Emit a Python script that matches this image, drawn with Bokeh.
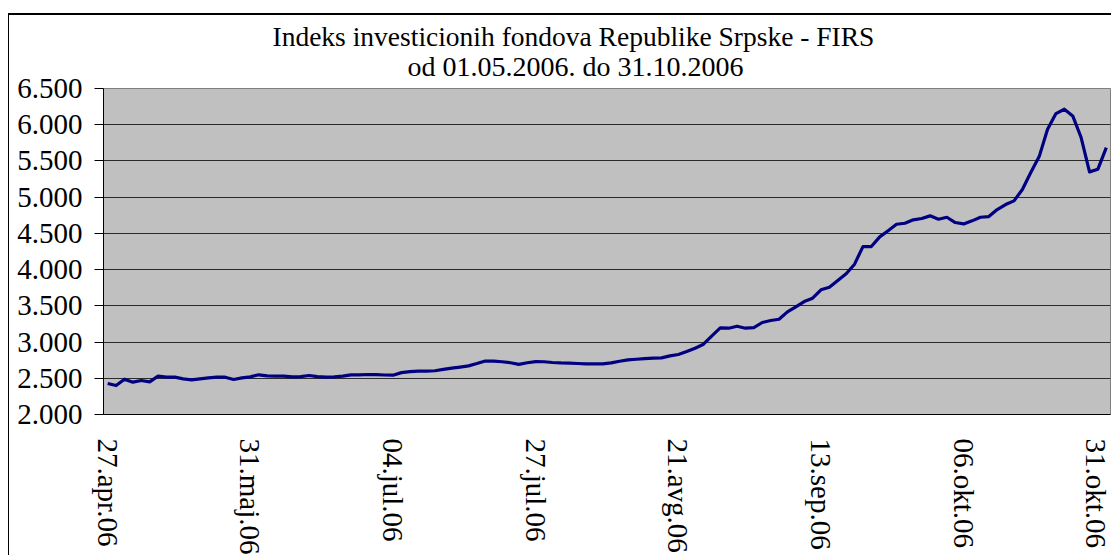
from bokeh.plotting import figure
from bokeh.models import Range1d, FixedTicker, Title
from bokeh.embed import file_html
from bokeh.resources import INLINE

title_lines = ["Indeks investicionih fondova Republike Srpske - FIRS",
               "od 01.05.2006. do 31.10.2006"]

index_values = [
    2428, 2400, 2487, 2446, 2469, 2451, 2529, 2515, 2515, 2492,
    2479, 2492, 2506, 2515, 2515, 2483, 2506, 2520, 2548, 2533,
    2529, 2529, 2520, 2524, 2538, 2524, 2515, 2520, 2529, 2548,
    2548, 2552, 2550, 2545, 2543, 2578, 2591, 2600, 2600, 2604,
    2623, 2641, 2655, 2671, 2703, 2738, 2738, 2728, 2714, 2692,
    2714, 2730, 2728, 2718, 2712, 2710, 2704, 2698, 2698, 2699,
    2712, 2735, 2754, 2763, 2770, 2777, 2782, 2810, 2828, 2869,
    2915, 2970, 3086, 3196, 3191, 3219, 3191, 3200, 3270, 3297,
    3315, 3417, 3486, 3559, 3605, 3721, 3757, 3850, 3942, 4075,
    4318, 4318, 4452, 4537, 4626, 4640, 4687, 4705, 4742, 4696,
    4723, 4650, 4631, 4673, 4723, 4732, 4829, 4898, 4949, 5105,
    5340, 5560, 5937, 6154, 6214, 6122, 5823, 5349, 5386, 5684,
]

x_label_positions = [0, 17, 34, 51, 68, 85, 102, 119]
x_tick_labels = ["27.apr.06", "31.maj.06", "04.jul.06", "27.jul.06",
                 "21.avg.06", "13.sep.06", "06.okt.06", "31.okt.06"]

y_ticks = [2000, 2500, 3000, 3500, 4000, 4500, 5000, 5500, 6000, 6500]
y_tick_labels = ["2.000", "2.500", "3.000", "3.500", "4.000",
                 "4.500", "5.000", "5.500", "6.000", "6.500"]

xs = list(range(len(index_values)))

FONT = "Liberation Serif"

p = figure(width=1103, height=542, output_backend="svg", toolbar_location=None,
           x_range=Range1d(-0.5, len(index_values) - 0.5),
           y_range=Range1d(y_ticks[0], y_ticks[-1]),
           min_border_left=94, min_border_right=2, min_border_top=73,
           min_border_bottom=143)
p.margin = (13, 0, 0, 8)
p.styles = {"border-left": "1px solid black", "border-top": "2px solid black",
            "box-sizing": "border-box"}

p.background_fill_color = "#C0C0C0"
p.border_fill_color = "white"
p.outline_line_color = "#808080"
p.outline_line_width = 1

# grid
p.xgrid.visible = False
p.ygrid.ticker = FixedTicker(ticks=y_ticks)
p.ygrid.grid_line_color = "#2a2a2a"
p.ygrid.grid_line_width = 1

# y axis
p.yaxis.ticker = FixedTicker(ticks=y_ticks)
p.yaxis.major_label_overrides = dict(zip(y_ticks, y_tick_labels))
p.yaxis.major_label_text_font = FONT
p.yaxis.major_label_text_font_size = "29px"
p.yaxis.major_label_text_color = "black"
p.yaxis.axis_line_color = "black"
p.yaxis.major_tick_line_color = "black"
p.yaxis.major_tick_out = 9
p.yaxis.major_tick_in = 0
p.yaxis.minor_tick_line_color = None
p.yaxis.major_label_standoff = 12

# x axis
p.xaxis.ticker = FixedTicker(ticks=x_label_positions)
p.xaxis.major_label_overrides = dict(zip(x_label_positions, x_tick_labels))
p.xaxis.major_label_orientation = -1.5707963267948966
p.xaxis.major_label_text_font = FONT
p.xaxis.major_label_text_font_size = "29px"
p.xaxis.major_label_text_color = "black"
p.xaxis.axis_line_color = "black"
p.xaxis.major_tick_line_color = None
p.xaxis.minor_tick_line_color = None
p.xaxis.major_tick_out = 0
p.xaxis.major_tick_in = 0
p.xaxis.major_label_standoff = 24

p.line(xs, index_values, line_color="#000080", line_width=3.2, line_join="round")

# titles: p.title is the outer line, the added Title sits next to the frame
p.title.text = title_lines[0]
p.title.text_font = FONT
p.title.text_font_size = "27.5px"
p.title.text_font_style = "normal"
p.title.text_color = "black"
p.title.align = "left"
p.title.offset = 169
p.title.vertical_align = "bottom"
p.title.standoff = -20

t2 = Title(text=title_lines[1], text_font=FONT, text_font_size="28px",
           text_font_style="normal", text_color="black", align="left",
           offset=304, vertical_align="bottom", standoff=14)
p.add_layout(t2, "above")

open("out.html", "w").write(file_html(p, INLINE))
